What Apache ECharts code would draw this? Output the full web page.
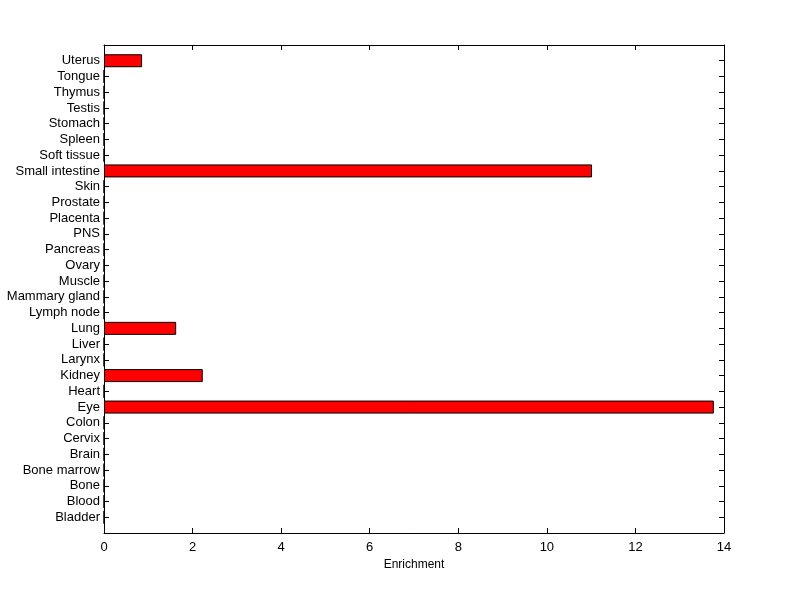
<!DOCTYPE html>
<html><head><meta charset="utf-8">
<script src="https://cdn.jsdelivr.net/npm/echarts@6/dist/echarts.min.js"></script>
<style>html,body{margin:0;padding:0;background:#fff}#c{width:800px;height:599px}</style>
</head><body><div id="c"></div>
<script>
var categories = ["Bladder","Blood","Bone","Bone marrow","Brain","Cervix","Colon","Eye","Heart","Kidney","Larynx","Liver","Lung","Lymph node","Mammary gland","Muscle","Ovary","Pancreas","PNS","Placenta","Prostate","Skin","Small intestine","Soft tissue","Spleen","Stomach","Testis","Thymus","Tongue","Uterus"];
var values = [0,0,0,0,0,0,0,13.77,0,2.23,0,0,1.63,0,0,0,0,0,0,0,0,0,11.02,0,0,0,0,0,0,0.86];
var xTicks = [0,2,4,6,8,10,12,14];

var cats = [''].concat(categories).concat(['']);
var vals = [null].concat(values).concat([null]);
var font = {color:'#000', fontSize:13, fontFamily:'Liberation Sans, Arial, sans-serif'};
function line(){ return {show:true, onZero:false, lineStyle:{color:'#000', width:1}}; }
function tick(extra){ return Object.assign({show:true, inside:true, length:5, lineStyle:{color:'#000', width:1}}, extra||{}); }
var chart = echarts.init(document.getElementById('c'));
chart.setOption({
  backgroundColor:'#fff',
  animation:false,
  grid:{left:104, right:76, top:45, bottom:66, containLabel:false},
  xAxis:[
    {type:'value', position:'bottom', min:xTicks[0], max:xTicks[xTicks.length-1], interval:2,
     axisLine:line(), axisTick:tick(), splitLine:{show:false},
     axisLabel:Object.assign({margin:8}, font),
     name:'Enrichment', nameLocation:'middle', nameGap:24,
     nameTextStyle:{color:'#000', fontSize:12, fontFamily:'Liberation Sans, Arial, sans-serif'}},
    {type:'value', position:'top', min:xTicks[0], max:xTicks[xTicks.length-1], interval:2,
     axisLine:line(), axisTick:tick(), splitLine:{show:false}, axisLabel:{show:false}}
  ],
  yAxis:[
    {type:'category', position:'left', data:cats, boundaryGap:false,
     axisLine:line(), axisTick:tick({interval:0}), splitLine:{show:false},
     axisLabel:Object.assign({interval:0, margin:4}, font)},
    {type:'category', position:'right', data:cats, boundaryGap:false,
     axisLine:line(), axisTick:tick({interval:0}), splitLine:{show:false},
     axisLabel:{show:false}}
  ],
  series:[{
    type:'bar', xAxisIndex:0, yAxisIndex:0, data:vals, barWidth:13,
    itemStyle:{color:'#ff0000', borderColor:'#000', borderWidth:1}
  }]
});
</script></body></html>
